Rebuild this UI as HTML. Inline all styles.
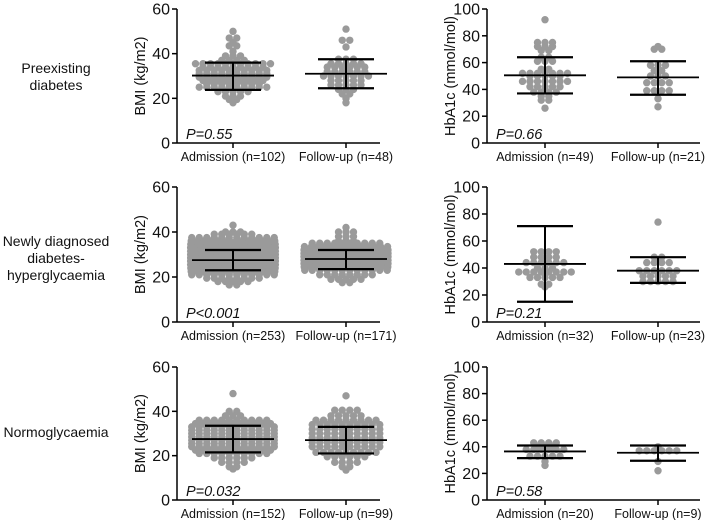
<!DOCTYPE html>
<html><head><meta charset="utf-8"><style>
body{margin:0;background:#fff;}
svg{display:block;font-family:"Liberation Sans",Arial,sans-serif;}
</style></head><body>
<svg id="c" width="713" height="520"></svg>
<script>
// ---- data (rows: value, count) ----
const rowLabels = [["Preexisting","diabetes"],["Newly diagnosed","diabetes-","hyperglycaemia"],["Normoglycaemia"]];
const bmiLabels = [["Admission (n=102)","Follow-up (n=48)"],["Admission (n=253)","Follow-up (n=171)"],["Admission (n=152)","Follow-up (n=99)"]];
const hbaLabels = [["Admission (n=49)","Follow-up (n=21)"],["Admission (n=32)","Follow-up (n=23)"],["Admission (n=20)","Follow-up (n=9)"]];
const bmiP = ["P=0.55","P<0.001","P=0.032"];
const hbaP = ["P=0.66","P=0.21","P=0.58"];
const bmiTicks = [0,20,40,60];
const hbaTicks = [0,20,40,60,80,100];
const bmiVals = [
 [[[50,1],[47,2],[45,1],[43.5,2],[41,1],[39,3],[37,4],[35.5,11],[34,9],[32.5,10],[31,10],[29.5,10],[28,9],[26.5,8],[25,10],[23,5],[21,3],[19.5,2],[18,1]],
  [[51,1],[46,2],[43,1],[37.5,3],[35.5,5],[34,6],[32,6],[30,7],[28,5],[26,5],[24,3],[22,2],[20,1],[18,1]]],
 [[[43,1],[40,3],[39,6],[37.5,12],[36,14],[34.5,16],[33,17],[31.5,17],[30,17],[28.5,17],[27,17],[25.5,17],[24,16],[22.5,14],[21,12],[19.5,8],[18,5],[16.5,2]],
  [[42,1],[40,3],[38,3],[36,3],[35,10],[33.5,13],[32,15],[30.5,15],[29,15],[27.5,15],[26,15],[24.5,14],[23,12],[21,8],[19,5],[17.5,2]]],
 [[[48,1],[40,2],[38,3],[36,10],[34.5,11],[33,12],[31.5,12],[30,12],[28.5,12],[27,12],[25.5,12],[24,12],[22.5,11],[21,10],[19,6],[17,4],[15,2],[14,1]],
  [[47,1],[40.5,4],[38,5],[36,9],[34,10],[32,10],[30,10],[28,10],[26,10],[24,10],[21.5,9],[19.5,6],[17,4],[15,2],[13.5,1]]]
];
const bmiStats = [[[30.2,23.8,36],[31,24.5,37.5]],[[27.5,23,32],[28,23.5,32]],[[27.5,21.5,33.5],[27,21,33]]];
const hbaVals = [
 [[[92,1],[75,3],[72,3],[69,2],[64,2],[61,3],[55,2],[52,7],[50,5],[46,7],[42,5],[38,4],[35,2],[32,2],[26,1]],
  [[72,1],[70,2],[58,3],[54,2],[50,3],[45,4],[39,4],[33,1],[27,1]]],
 [[[52,4],[48,4],[44,6],[40,3],[37,8],[33,5],[28,2],[26,1]],
  [[74,1],[48,2],[44,4],[38,6],[34,5],[30,5]]],
 [[[43,4],[40,3],[38,6],[33,5],[29,1],[26,1]],
  [[40,1],[37,6],[29,1],[22,1]]]
];
const hbaStats = [[[50.5,37,64],[49,36,61]],[[43,15,71],[38,29,48]],[[36.5,31.5,41],[35.5,29.5,41]]];

const svg=document.getElementById('c');
const NS='http://www.w3.org/2000/svg';
function el(t,a,p){const e=document.createElementNS(NS,t);for(const k in a)e.setAttribute(k,a[k]);(p||svg).appendChild(e);return e;}

const rowTop=[9,187,367];
const rowH=[134,135,133];
const rowLabY=[73,246,437];

rowLabels.forEach((lines,r)=>{
  const t=el('text',{'text-anchor':'middle','font-size':14,fill:'#111'});
  
  
  lines.forEach((ln,i)=>{const s=el('tspan',{x:56,y:rowLabY[r]+i*17},t);s.textContent=ln;});
});

function panel(r,kind){
  const isB=kind==='bmi';
  const ax=isB?177:487, xEnd=isB?380:700;
  const xs=isB?[233,346]:[545,658];
  const max=isB?60:100, ticks=isB?bmiTicks:hbaTicks;
  const y0=rowTop[r]+rowH[r], top=rowTop[r];
  const ys=v=>y0-(v/max)*(y0-top);
  const g=el('g',{});
  
  
  const ya=el('line',{x1:ax,y1:top,x2:ax,y2:y0,stroke:'#000','stroke-width':1.5},g);
  
  
  const xa=el('line',{x1:ax,y1:y0,x2:xEnd,y2:y0,stroke:'#000','stroke-width':1.5},g);
  
  
  ticks.forEach(v=>{
    el('line',{x1:ax-5,y1:ys(v),x2:ax,y2:ys(v),stroke:'#000','stroke-width':1.5},g);
    const t=el('text',{x:ax-7,y:ys(v)+5.5,'text-anchor':'end','font-size':16,fill:'#111'},g);
    
    
    t.textContent=v;
  });
  const cy=(top+y0)/2, tx=ax-32;
  const yt=el('text',{x:tx,y:cy,'text-anchor':'middle','font-size':14.5,fill:'#111',transform:`rotate(-90 ${tx} ${cy})`},g);
  
  
  yt.textContent=isB?'BMI (kg/m2)':'HbA1c (mmol/mol)';
  const labs=isB?bmiLabels[r]:hbaLabels[r];
  const vals=isB?bmiVals[r]:hbaVals[r];
  const stats=isB?bmiStats[r]:hbaStats[r];
  xs.forEach((x,i)=>{
    el('line',{x1:x,y1:y0,x2:x,y2:y0+5,stroke:'#000','stroke-width':1.5},g);
    const t=el('text',{x:x,y:y0+18,'text-anchor':'middle','font-size':12.5,fill:'#111'},g);
    
    
    t.textContent=labs[i];
    vals[i].forEach(([v,n],ri)=>{
      const dx=Math.min(7.5,90/n);
      for(let k=0;k<n;k++){
        const c=el('circle',{cx:x+(k-(n-1)/2)*dx,cy:ys(v),r:3.7,fill:'#9a9a9a'},g);
        
        
      }
    });
    const [m,lo,hi]=stats[i];
    const gs=el('g',{stroke:'#000'},g);
    
    
    el('line',{x1:x-41,y1:ys(m),x2:x+41,y2:ys(m),'stroke-width':1.8},gs);
    el('line',{x1:x,y1:ys(lo),x2:x,y2:ys(hi),'stroke-width':2},gs);
    el('line',{x1:x-28,y1:ys(lo),x2:x+28,y2:ys(lo),'stroke-width':2.2},gs);
    el('line',{x1:x-28,y1:ys(hi),x2:x+28,y2:ys(hi),'stroke-width':2.2},gs);
  });
  const p=el('text',{x:ax+9,y:y0-4,'font-size':14.5,'font-style':'italic',fill:'#111'},g);
  
  
  p.textContent=isB?bmiP[r]:hbaP[r];
}
for(let r=0;r<3;r++){panel(r,'bmi');panel(r,'hba');}
</script>
</body></html>
